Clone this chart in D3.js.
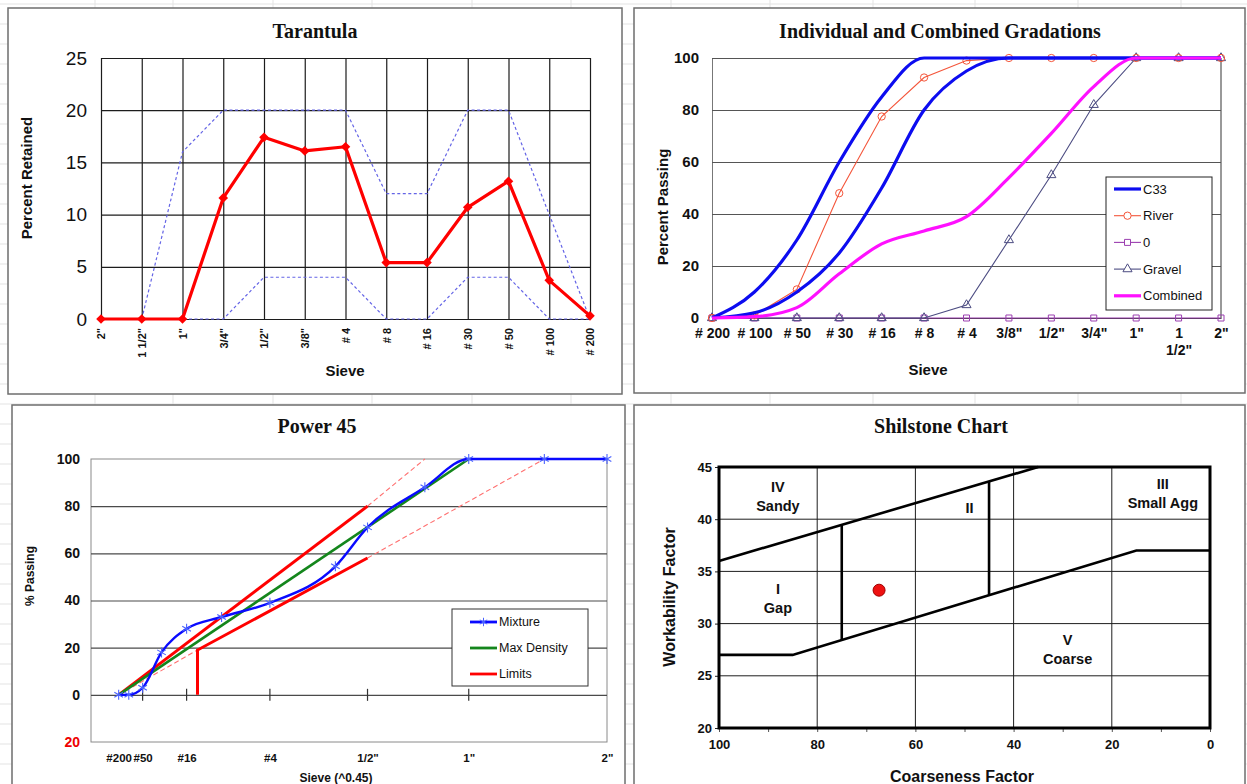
<!DOCTYPE html>
<html>
<head>
<meta charset="utf-8">
<script src="https://cdn.jsdelivr.net/npm/d3@7"></script>
<style>
  body { margin: 0; background: #fff; }
  svg { display: block; }
  svg text { font-family: "Liberation Sans", Arial, sans-serif; fill: #111; }
  svg text.title { font-family: "Liberation Serif", "Times New Roman", serif; font-weight: bold; font-size: 20px; }
  svg text.bold { font-weight: bold; }
</style>
</head>
<body>
<svg id="chart" width="1247" height="784"></svg>
<script>
// ---- Tarantula: percent retained on each sieve
const tarantulaSieves = ['2"', '1 1/2"', '1"', '3/4"', '1/2"', '3/8"', "# 4", "# 8", "# 16", "# 30", "# 50", "# 100", "# 200"];
const tarantulaRetained = [0, 0, 0, 11.6, 17.4, 16.1, 16.5, 5.4, 5.4, 10.7, 13.2, 3.7, 0.3];
const tarantulaUpper = [null, 0, 16, 20, 20, 20, 20, 12, 12, 20, 20, 10, 0];
const tarantulaLower = [0, 0, 0, 0, 4, 4, 4, 0, 0, 4, 4, 0, 0];

// ---- Individual and combined gradations: percent passing
const gradationSieves = ["# 200", "# 100", "# 50", "# 30", "# 16", "# 8", "# 4", '3/8"', '1/2"', '3/4"', '1"', '1 1/2"', '2"'];
const c33Upper = [0, 10, 30, 60, 85, 100, 100, 100, 100, 100, 100, 100, 100];
const c33Lower = [0, 2, 10, 25, 50, 80, 95, 100, 100, 100, 100, 100, 100];
const riverPassing = [0, 1, 11, 48, 77.5, 92.5, 99, 100, 100, 100, 100, 100, 100];
const zeroPassing = [0, 0, 0, 0, 0, 0, 0, 0, 0, 0, 0, 0, 0];
const gravelPassing = [0, 0, 0, 0, 0, 0, 5, 30, 55, 82, 100, 100, 100];
const combinedPassing = [0, 0.5, 4, 17, 28.5, 33.5, 39, 54, 71, 89, 100, 100, 100];

// ---- Power 45 (sizes in mm)
const p45Labels = ["#200", "#50", "#16", "#4", '1/2"', '1"', '2"'];
const p45LabelSizes = [0.075, 0.3, 1.18, 4.75, 12.5, 25, 50];
const p45TickSizes = [0.3, 1.18, 4.75, 12.5, 25];
const mixtureSizes = [0.075, 0.15, 0.3, 0.6, 1.18, 2.36, 4.75, 9.5, 12.5, 19, 25, 37.5, 50];
const mixturePassing = [0, 0, 3, 18, 28, 33, 39, 54.5, 71, 88, 100, 100, 100];
const maxDensity = [[0.075, 0], [25, 100]];
const limitsSolid = [
  [[0.075, 0], [12.5, 80]],
  [[1.5, 0], [1.5, 19], [12.5, 58]]
];
const limitsDashed = [
  [[12.5, 80], [19, 100]],
  [[0.075, 0], [1.5, 19]],
  [[12.5, 58], [37.5, 100]]
];

// ---- Shilstone chart (coarseness factor, workability factor)
const shilstoneBoundaries = [
  [[100, 36], [35, 45]],
  [[100, 27], [85, 27], [15, 37], [0, 37]],
  [[75, 28.4], [75, 39.5]],
  [[45, 32.7], [45, 43.6]]
];
const shilstoneZones = [
  { lines: ["IV", "Sandy"], cf: 88, wf: 42.2 },
  { lines: ["I", "Gap"], cf: 88, wf: 32.4 },
  { lines: ["II"], cf: 49, wf: 41.1 },
  { lines: ["III", "Small Agg"], cf: 9.6, wf: 42.5 },
  { lines: ["V", "Coarse"], cf: 29, wf: 27.5 }
];
const mixturePoint = { cf: 67.4, wf: 33.2 };

const svg = d3.select("#chart");

// Faint worksheet grid behind the charts
const sheet = svg.append("g").attr("stroke", "#e3e3e3").attr("stroke-width", 1);
sheet.selectAll(".col")
    .data([95, 173, 273, 372, 472, 571, 671, 770, 873, 975, 1078, 1181])
  .join("line")
    .attr("x1", d => d).attr("x2", d => d)
    .attr("y1", 0).attr("y2", 784);
sheet.selectAll(".row")
    .data(d3.range(4, 784, 20))
  .join("line")
    .attr("x1", 0).attr("x2", 1247)
    .attr("y1", d => d).attr("y2", d => d);

function panel(x0, y0, x1, y1) {
  svg.append("rect")
      .attr("x", x0).attr("y", y0)
      .attr("width", x1 - x0).attr("height", y1 - y0)
      .attr("fill", "#fff")
      .attr("stroke", "#6e6e6e")
      .attr("stroke-width", 1.5);
  return svg.append("g");
}

function label(g, text, x, y, size, opts) {
  opts = opts || {};
  const t = g.append("text")
      .attr("class", opts.cls || "bold")
      .attr("x", x).attr("y", y)
      .attr("text-anchor", "middle")
      .style("font-size", size + "px")
      .text(text);
  if (opts.rotate) t.attr("transform", `rotate(-90,${x},${y})`);
  return t;
}

drawTarantula();
drawGradations();
drawPower45();
drawShilstone();

function drawTarantula() {
  const g = panel(8, 8, 622, 394);

  // Scales
  const x = d3.scalePoint().domain(tarantulaSieves).range([101, 590]);
  const y = d3.scaleLinear().domain([0, 25]).range([319, 58]);

  // Horizontal grid + labels
  g.append("g")
      .attr("transform", "translate(101,0)")
      .call(d3.axisLeft(y).ticks(5).tickSize(-489).tickPadding(14))
      .call(a => a.select(".domain").remove())
      .call(a => a.selectAll("line").attr("stroke", "#1c1c1c").attr("stroke-width", 1.2))
      .call(a => a.selectAll("text").style("font-size", "19px"));

  // Vertical grid + rotated sieve labels
  g.append("g")
      .attr("transform", `translate(0,${y(0)})`)
      .call(d3.axisBottom(x).tickSize(-261))
      .call(a => a.select(".domain").remove())
      .call(a => a.selectAll("line").attr("stroke", "#1c1c1c").attr("stroke-width", 1.2))
      .call(a => a.selectAll("text")
          .attr("transform", "rotate(-90)")
          .attr("text-anchor", "end")
          .attr("x", -9).attr("y", 0).attr("dy", "0.35em")
          .style("font-size", "11px").style("font-weight", "bold"));

  // Limit lines
  const limitLine = d3.line()
      .defined(d => d != null)
      .x((d, i) => x(tarantulaSieves[i]))
      .y(d => y(d));

  g.selectAll(".limit")
      .data([tarantulaUpper, tarantulaLower])
    .join("path")
      .attr("d", limitLine)
      .attr("fill", "none")
      .attr("stroke", "#6464e6")
      .attr("stroke-width", 1.2)
      .attr("stroke-dasharray", "3 2.5");

  // Retained
  g.append("path")
      .datum(tarantulaRetained)
      .attr("d", limitLine)
      .attr("fill", "none")
      .attr("stroke", "#ff0000")
      .attr("stroke-width", 3.2)
      .attr("stroke-linejoin", "round");

  g.selectAll(".pt")
      .data(tarantulaRetained)
    .join("path")
      .attr("transform", (d, i) => `translate(${x(tarantulaSieves[i])},${y(d)}) rotate(45)`)
      .attr("d", d3.symbol(d3.symbolSquare, 46))
      .attr("fill", "#ff0000");

  label(g, "Tarantula", 315, 38, 20, { cls: "title" });
  label(g, "Percent Retained", 32, 178, 15, { rotate: true });
  label(g, "Sieve", 345, 376, 15);
}

function drawGradations() {
  const g = panel(634, 8, 1245, 393);

  // Scales
  const x = d3.scalePoint().domain(gradationSieves).range([712, 1221]);
  const y = d3.scaleLinear().domain([0, 100]).range([318, 58]);

  g.append("g")
      .attr("transform", "translate(712,0)")
      .call(d3.axisLeft(y).ticks(5).tickSizeInner(-509).tickSizeOuter(0).tickPadding(13))
      .call(a => a.select(".domain").attr("stroke", "#777"))
      .call(a => a.selectAll("line").attr("stroke", "#555").attr("stroke-width", 1.2))
      .call(a => a.selectAll("text").style("font-size", "15px").style("font-weight", "bold"));

  g.append("line")
      .attr("x1", x('2"')).attr("x2", x('2"'))
      .attr("y1", y(0)).attr("y2", y(100))
      .attr("stroke", "#555").attr("stroke-width", 1.2);

  g.append("g")
      .attr("transform", `translate(0,${y(0)})`)
      .call(d3.axisBottom(x).tickSize(0).tickPadding(10))
      .call(a => a.select(".domain").attr("stroke", "#333").attr("stroke-width", 1.2))
      .call(a => a.selectAll("text")
          .style("font-size", "14px").style("font-weight", "bold")
          .each(function(d) {
            if (d !== '1 1/2"') return;
            const t = d3.select(this).text(null);
            t.append("tspan").attr("x", 0).text("1");
            t.append("tspan").attr("x", 0).attr("dy", "1.2em").text('1/2"');
          }));

  // Series
  const series = [
    { name: "C33", values: c33Upper, color: "#0c0cf0", width: 3.2, curve: d3.curveMonotoneX },
    { name: null, values: c33Lower, color: "#0c0cf0", width: 3.2, curve: d3.curveMonotoneX },
    { name: "River", values: riverPassing, color: "#f4553a", width: 1.1, marker: "circle" },
    { name: "0", values: zeroPassing, color: "#9b3fb0", width: 1.1, marker: "square" },
    { name: "Gravel", values: gravelPassing, color: "#4c4c82", width: 1.1, marker: "triangle" },
    { name: "Combined", values: combinedPassing, color: "#ff10ff", width: 3.2, curve: d3.curveMonotoneX }
  ];
  const symbols = {
    circle: d3.symbol(d3.symbolCircle, 42),
    square: d3.symbol(d3.symbolSquare, 36),
    triangle: d3.symbol(d3.symbolTriangle, 36)
  };

  const draw = [series[3], series[4], series[2], series[0], series[1], series[5]];
  draw.forEach(s => {
    const line = d3.line()
        .x((d, i) => x(gradationSieves[i]))
        .y(d => y(d))
        .curve(s.curve || d3.curveLinear);
    g.append("path")
        .datum(s.values)
        .attr("d", line)
        .attr("fill", "none")
        .attr("stroke", s.color)
        .attr("stroke-width", s.width);
    if (s.marker) {
      g.append("g").selectAll("path")
          .data(s.values)
        .join("path")
          .attr("transform", (d, i) => `translate(${x(gradationSieves[i])},${y(d)})`)
          .attr("d", symbols[s.marker])
          .attr("fill", "none")
          .attr("stroke", s.color)
          .attr("stroke-width", 1);
    }
  });

  // Legend
  const legend = g.append("g").attr("transform", "translate(1106,177)");
  legend.append("rect")
      .attr("width", 106).attr("height", 133)
      .attr("fill", "#fff").attr("stroke", "#222").attr("stroke-width", 1);
  const entries = legend.selectAll(".entry")
      .data(series.filter(s => s.name))
    .join("g")
      .attr("transform", (d, i) => `translate(0,${12 + i * 26.7})`);
  entries.append("line")
      .attr("x1", 8).attr("x2", 35)
      .attr("stroke", d => d.color)
      .attr("stroke-width", d => d.width);
  entries.filter(d => d.marker).append("path")
      .attr("transform", "translate(21.5,0)")
      .attr("d", d => symbols[d.marker]())
      .attr("fill", "#fff")
      .attr("stroke", d => d.color);
  entries.append("text")
      .attr("x", 37).attr("dy", "0.35em")
      .style("font-size", "13px")
      .text(d => d.name);

  label(g, "Individual and Combined Gradations", 940, 38, 20, { cls: "title" });
  label(g, "Percent Passing", 668, 207, 15, { rotate: true });
  label(g, "Sieve", 928, 375, 15);
}

function drawPower45() {
  const g = panel(12, 405, 625, 800);

  // Scales
  const x = d3.scalePow().exponent(0.45).domain([0, 50]).range([91, 607]);
  const y = d3.scaleLinear().domain([-20, 100]).range([742, 459]);

  g.append("rect")
      .attr("x", 91).attr("y", y(100))
      .attr("width", 516).attr("height", y(-20) - y(100))
      .attr("fill", "none").attr("stroke", "#8a8a8a");

  g.append("g")
      .attr("transform", "translate(91,0)")
      .call(d3.axisLeft(y).tickValues(d3.range(-20, 101, 20)).tickSize(-516).tickPadding(11)
          .tickFormat(d => Math.abs(d)))
      .call(a => a.select(".domain").remove())
      .call(a => a.selectAll("line").attr("stroke", "#4a4a4a").attr("stroke-width", 1.2)
          .attr("opacity", d => d === -20 || d === 100 ? 0 : 1))
      .call(a => a.selectAll("text")
          .style("font-size", "14px").style("font-weight", "bold")
          .style("fill", d => d < 0 ? "#ee0000" : "#111"));

  g.append("g")
      .attr("transform", `translate(0,${y(-20)})`)
      .call(d3.axisBottom(x).tickValues(p45LabelSizes).tickSize(0).tickPadding(12)
          .tickFormat((d, i) => p45Labels[i]))
      .call(a => a.select(".domain").remove())
      .call(a => a.selectAll("text").style("font-size", "11.5px").style("font-weight", "bold"));

  // Sieve marks on the zero line
  g.selectAll(".mark")
      .data(p45TickSizes)
    .join("line")
      .attr("x1", d => x(d)).attr("x2", d => x(d))
      .attr("y1", y(0) - 6).attr("y2", y(0) + 6)
      .attr("stroke", "#333").attr("stroke-width", 1.2);

  const line = d3.line().x(d => x(d[0])).y(d => y(d[1]));

  g.selectAll(".dashed")
      .data(limitsDashed)
    .join("path")
      .attr("d", line)
      .attr("fill", "none")
      .attr("stroke", "#ff7070")
      .attr("stroke-width", 1.1)
      .attr("stroke-dasharray", "5 3");

  g.selectAll(".solid")
      .data(limitsSolid)
    .join("path")
      .attr("d", line)
      .attr("fill", "none")
      .attr("stroke", "#ff0000")
      .attr("stroke-width", 3);

  g.append("path")
      .datum(maxDensity)
      .attr("d", line)
      .attr("fill", "none")
      .attr("stroke", "#14861c")
      .attr("stroke-width", 2.6);

  const mixture = mixtureSizes.map((s, i) => [s, mixturePassing[i]]);
  g.append("path")
      .datum(mixture)
      .attr("d", line.curve(d3.curveMonotoneX))
      .attr("fill", "none")
      .attr("stroke", "#0a0aff")
      .attr("stroke-width", 2.4);

  g.selectAll(".star")
      .data(mixture)
    .join("path")
      .attr("transform", d => `translate(${x(d[0])},${y(d[1])})`)
      .attr("d", d3.symbol(d3.symbolAsterisk, 70))
      .attr("fill", "none")
      .attr("stroke", "#4a62ff")
      .attr("stroke-width", 1.1);

  // Legend
  const legend = g.append("g").attr("transform", "translate(452,609)");
  legend.append("rect")
      .attr("width", 136).attr("height", 77)
      .attr("fill", "#fff").attr("stroke", "#333");
  const entries = legend.selectAll(".entry")
      .data([
        { name: "Mixture", color: "#0a0aff", star: true },
        { name: "Max Density", color: "#14861c" },
        { name: "Limits", color: "#ff0000" }
      ])
    .join("g")
      .attr("transform", (d, i) => `translate(0,${13 + i * 26})`);
  entries.append("line")
      .attr("x1", 18).attr("x2", 45)
      .attr("stroke", d => d.color).attr("stroke-width", 2.8);
  entries.filter(d => d.star).append("path")
      .attr("transform", "translate(31.5,0)")
      .attr("d", d3.symbol(d3.symbolAsterisk, 50))
      .attr("fill", "none").attr("stroke", "#4a62ff");
  entries.append("text")
      .attr("x", 47).attr("dy", "0.35em")
      .style("font-size", "12.5px")
      .text(d => d.name);

  label(g, "Power 45", 317, 433, 20, { cls: "title" });
  label(g, "% Passing", 34, 576, 12, { rotate: true });
  label(g, "Sieve (^0.45)", 336, 782, 12);
}

function drawShilstone() {
  const g = panel(634, 405, 1245, 800);

  // Scales
  const x = d3.scaleLinear().domain([100, 0]).range([719, 1210]);
  const y = d3.scaleLinear().domain([20, 45]).range([728, 467]);

  // Grid
  g.selectAll(".vgrid")
      .data([80, 60, 40, 20])
    .join("line")
      .attr("x1", x).attr("x2", x)
      .attr("y1", y(20)).attr("y2", y(45))
      .attr("stroke", "#1e1e1e").attr("stroke-width", 1);
  g.selectAll(".hgrid")
      .data([25, 30, 35, 40])
    .join("line")
      .attr("x1", x(100)).attr("x2", x(0))
      .attr("y1", y).attr("y2", y)
      .attr("stroke", "#1e1e1e").attr("stroke-width", 1);

  // Axes
  g.append("g")
      .attr("transform", `translate(${x(100)},0)`)
      .call(d3.axisLeft(y).tickValues(d3.range(20, 46, 5)).tickSize(4).tickPadding(3))
      .call(a => a.select(".domain").remove())
      .call(a => a.selectAll("line").attr("stroke", "#222"))
      .call(a => a.selectAll("text").style("font-size", "13px").style("font-weight", "bold"));

  g.append("g")
      .attr("transform", `translate(0,${y(20)})`)
      .call(d3.axisBottom(x).tickValues(d3.range(100, -1, -10)).tickSize(4).tickPadding(8)
          .tickFormat(d => d % 20 === 0 ? d : ""))
      .call(a => a.select(".domain").remove())
      .call(a => a.selectAll("line").attr("stroke", "#555"))
      .call(a => a.selectAll("text").style("font-size", "13px").style("font-weight", "bold"));

  // Zone boundaries
  const line = d3.line().x(d => x(d[0])).y(d => y(d[1]));
  g.selectAll(".zone")
      .data(shilstoneBoundaries)
    .join("path")
      .attr("d", line)
      .attr("fill", "none")
      .attr("stroke", "#000")
      .attr("stroke-width", 2.6);

  g.append("rect")
      .attr("x", x(100)).attr("y", y(45))
      .attr("width", x(0) - x(100)).attr("height", y(20) - y(45))
      .attr("fill", "none").attr("stroke", "#000").attr("stroke-width", 3);

  // Zone names
  const zones = g.selectAll(".zoneLabel")
      .data(shilstoneZones)
    .join("text")
      .attr("class", "bold")
      .attr("text-anchor", "middle")
      .style("font-size", "14.5px")
      .attr("transform", d => `translate(${x(d.cf)},${y(d.wf)})`);
  zones.selectAll("tspan")
      .data(d => d.lines.map((t, i) => ({ t, i, n: d.lines.length })))
    .join("tspan")
      .attr("x", 0)
      .attr("y", d => (d.i - (d.n - 1) / 2) * 19)
      .attr("dy", "0.35em")
      .text(d => d.t);

  // Mixture point
  g.append("circle")
      .attr("cx", x(mixturePoint.cf)).attr("cy", y(mixturePoint.wf))
      .attr("r", 6)
      .attr("fill", "#ee1111").attr("stroke", "#a00000").attr("stroke-width", 1);

  label(g, "Shilstone Chart", 941, 433, 20, { cls: "title" });
  label(g, "Workability Factor", 675, 597, 16, { rotate: true });
  label(g, "Coarseness Factor", 962, 782, 16);
}
</script>
</body>
</html>
